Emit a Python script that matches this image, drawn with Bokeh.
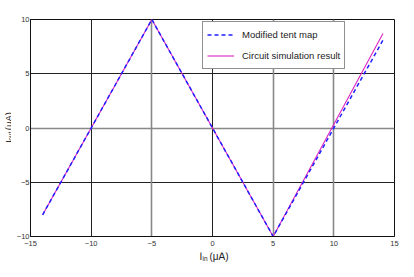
import math
from bokeh.plotting import figure
from bokeh.models import Range1d, FixedTicker, Grid, Legend, LegendItem
from bokeh.layouts import column, row
from bokeh.core.properties import value
from bokeh.embed import file_html
from bokeh.resources import INLINE

# Data
tent_x = [-14, -5, 5, 14.1]
tent_y = [-8, 10, -10, 8.2]
circ_x = [-14, -5, 5, 14.05]
circ_y = [-8, 10, -10, 8.7]
x_ticks = [-15, -10, -5, 0, 5, 10, 15]
y_ticks = [-10, -5, 0, 5, 10]
legend_labels = ["Modified tent map", "Circuit simulation result"]
xlabel_parts = ["I", "in", "(μA)"]
ylabel_parts = ["I", "out", "(μA)"]

FONT = "Liberation Sans"
TXT = "#222222"

LEFT_W = 11
BOTTOM_H = 25
TOTAL_W, TOTAL_H = 414, 277
MAIN_W = TOTAL_W - LEFT_W
MAIN_H = TOTAL_H - BOTTOM_H

p = figure(width=MAIN_W, height=MAIN_H, output_backend="svg", toolbar_location=None,
           x_range=Range1d(-15, 15), y_range=Range1d(-10, 10),
           min_border_left=30 - LEFT_W, min_border_right=20, min_border_top=19,
           min_border_bottom=MAIN_H - 236, margin=0)
p.background_fill_color = "white"
p.border_fill_color = "white"
p.outline_line_color = "#111111"
p.outline_line_width = 1

for ax, ticks in ((p.xaxis[0], x_ticks), (p.yaxis[0], y_ticks)):
    ax.ticker = FixedTicker(ticks=ticks)
    ax.axis_label = None
    ax.axis_label_standoff = 0
    ax.major_tick_line_color = None
    ax.minor_tick_line_color = None
    ax.major_tick_out = 0
    ax.major_tick_in = 0
    ax.minor_tick_out = 0
    ax.minor_tick_in = 0
    ax.axis_line_color = "#111111"
    ax.major_label_text_font = FONT
    ax.major_label_text_font_size = "7.5px"
    ax.major_label_text_color = "#333333"
p.xaxis[0].major_label_standoff = 4
p.yaxis[0].major_label_standoff = 1

# grids: dark and gray lines
p.xgrid[0].ticker = FixedTicker(ticks=[-10, 0])
p.xgrid[0].grid_line_color = "#222222"
p.xgrid[0].grid_line_width = 1
p.ygrid[0].ticker = FixedTicker(ticks=[-5, 5])
p.ygrid[0].grid_line_color = "#222222"
p.ygrid[0].grid_line_width = 1
p.add_layout(Grid(dimension=0, ticker=FixedTicker(ticks=[-5, 5, 10]),
                  grid_line_color="#888888", grid_line_width=1.6))
p.add_layout(Grid(dimension=1, ticker=FixedTicker(ticks=[0]),
                  grid_line_color="#888888", grid_line_width=1.6))

r_circ = p.line(circ_x, circ_y, line_color="#dd22c0", line_width=1.1)
r_tent = p.line(tent_x, tent_y, line_color="#1f1fff", line_width=1.5, line_dash="4 3")

legend = Legend(items=[LegendItem(label=legend_labels[0], renderers=[r_tent]),
                       LegendItem(label=legend_labels[1], renderers=[r_circ])],
                location=(172, 167), orientation="vertical",
                border_line_color="#222222", border_line_width=1,
                background_fill_color="white", background_fill_alpha=1,
                label_text_font=FONT, label_text_font_size="9.5px", label_text_color=TXT,
                glyph_width=27, glyph_height=17, label_height=17, label_standoff=8,
                padding=4, spacing=4, margin=0)
p.add_layout(legend, "center")


def text_panel(w, h):
    # data coordinates = pixels from the panel's bottom-left corner
    f = figure(width=w, height=h, output_backend="svg", toolbar_location=None,
               x_range=Range1d(0, w), y_range=Range1d(0, h),
               x_axis_type=None, y_axis_type=None, min_border=0, margin=0)
    f.outline_line_color = None
    f.background_fill_color = "white"
    f.border_fill_color = "white"
    return f


common = dict(text_font=value(FONT), text_color=TXT, text_baseline="alphabetic", text_align="left")

# left panel: rotated y-axis label (page y converted to bottom-up)
left = text_panel(LEFT_W, MAIN_H)
ang = math.pi / 2
left.text(x=[8.2], y=[MAIN_H - 143], text=[ylabel_parts[0]], angle=ang, text_font_size="9.5px", **common)
left.text(x=[9.8], y=[MAIN_H - 140.4], text=[ylabel_parts[1]], angle=ang, text_font_size="6.3px", **common)
left.text(x=[8.2], y=[MAIN_H - 128.5], text=[ylabel_parts[2]], angle=ang, text_font_size="9.5px", **common)

# bottom panel: x-axis label (page y converted to bottom-up)
bottom = text_panel(TOTAL_W, BOTTOM_H)
bottom.text(x=[199], y=[TOTAL_H - 256], text=[xlabel_parts[0]], text_font_size="10px", **common)
bottom.text(x=[202], y=[TOTAL_H - 258], text=[xlabel_parts[1]], text_font_size="6.5px", **common)
bottom.text(x=[209], y=[TOTAL_H - 256], text=[xlabel_parts[2]], text_font_size="10px", **common)

layout = column(row(left, p, spacing=0, margin=0), bottom, spacing=0, margin=0)
open("out.html", "w").write(file_html(layout, INLINE))
